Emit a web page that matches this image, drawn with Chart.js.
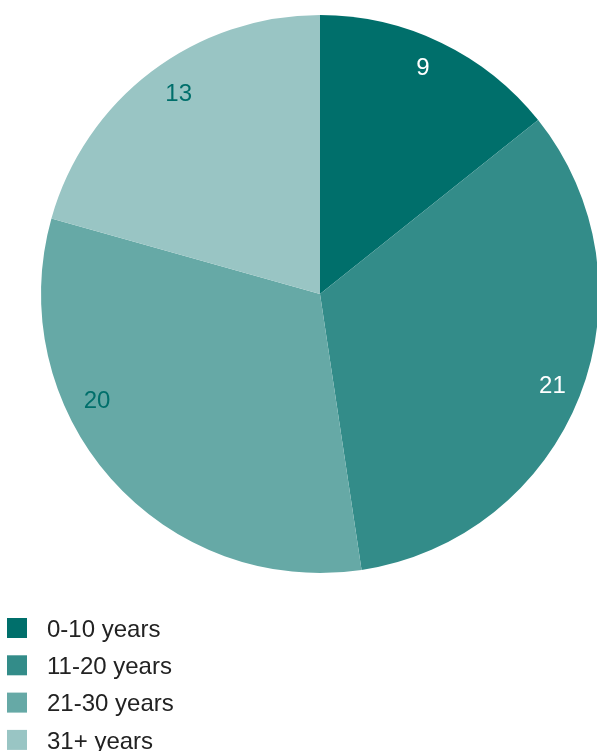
<!DOCTYPE html>
<html>
<head>
<meta charset="utf-8">
<script src="https://cdn.jsdelivr.net/npm/chart.js@4/dist/chart.umd.min.js"></script>
<style>
  html, body { margin: 0; padding: 0; background: #ffffff; overflow: hidden; }
  #wrap { position: relative; width: 600px; height: 751px; }
</style>
</head>
<body>
<div id="wrap"><canvas id="c" width="600" height="751"></canvas></div>
<script>
const categories = ["0-10 years", "11-20 years", "21-30 years", "31+ years"];
const values = [9, 21, 20, 13];
const sliceColors = ["#006f6b", "#338c89", "#66a9a6", "#99c5c4"];
const labelColors = ["#ffffff", "#ffffff", "#006f6b", "#006f6b"];

const FONT = "'Liberation Sans', Arial, Helvetica, sans-serif";

const sliceLabels = {
  id: 'sliceLabels',
  afterDatasetsDraw(chart, args, opts) {
    const ctx = chart.ctx;
    const meta = chart.getDatasetMeta(0);
    ctx.save();
    ctx.font = opts.fontSize + 'px ' + FONT;
    ctx.textAlign = 'center';
    ctx.textBaseline = 'middle';
    meta.data.forEach((arc, i) => {
      const p = arc.getProps(['x', 'y', 'startAngle', 'endAngle', 'outerRadius'], true);
      const mid = (p.startAngle + p.endAngle) / 2 + (opts.nudge[i] || 0) * Math.PI / 180;
      const r = p.outerRadius * (opts.radial[i] || 0.89);
      ctx.fillStyle = labelColors[i];
      ctx.fillText(String(values[i]), p.x + Math.cos(mid) * r, p.y + Math.sin(mid) * r + 1);
    });
    ctx.restore();
  }
};

const listLegend = {
  id: 'listLegend',
  afterDraw(chart, args, opts) {
    const ctx = chart.ctx;
    ctx.save();
    ctx.font = opts.fontSize + 'px ' + FONT;
    ctx.textBaseline = 'middle';
    ctx.textAlign = 'left';
    const ds = chart.data.datasets[0];
    chart.data.labels.forEach((lab, i) => {
      const cy = opts.top + i * opts.rowHeight;
      ctx.fillStyle = ds.backgroundColor[i];
      ctx.fillRect(opts.left, cy - opts.box / 2, opts.box, opts.box);
      ctx.fillStyle = opts.color;
      ctx.fillText(lab, opts.textLeft, cy + 2);
    });
    ctx.restore();
  }
};

new Chart(document.getElementById('c'), {
  type: 'pie',
  data: {
    labels: categories,
    datasets: [{
      data: values,
      backgroundColor: sliceColors,
      borderWidth: 0,
      hoverOffset: 0
    }]
  },
  options: {
    responsive: false,
    animation: false,
    events: [],
    layout: { padding: { left: 41, right: 1, top: 15, bottom: 178 } },
    plugins: {
      legend: { display: false },
      tooltip: { enabled: false },
      sliceLabels: { fontSize: 24, nudge: [-1.3, 0, 16, 2], radial: [0.893, 0.895, 0.885, 0.88] },
      listLegend: { fontSize: 24, left: 7, box: 20, textLeft: 47, top: 628, rowHeight: 37.3, color: '#222222' }
    }
  },
  plugins: [sliceLabels, listLegend]
});
</script>
</body>
</html>
